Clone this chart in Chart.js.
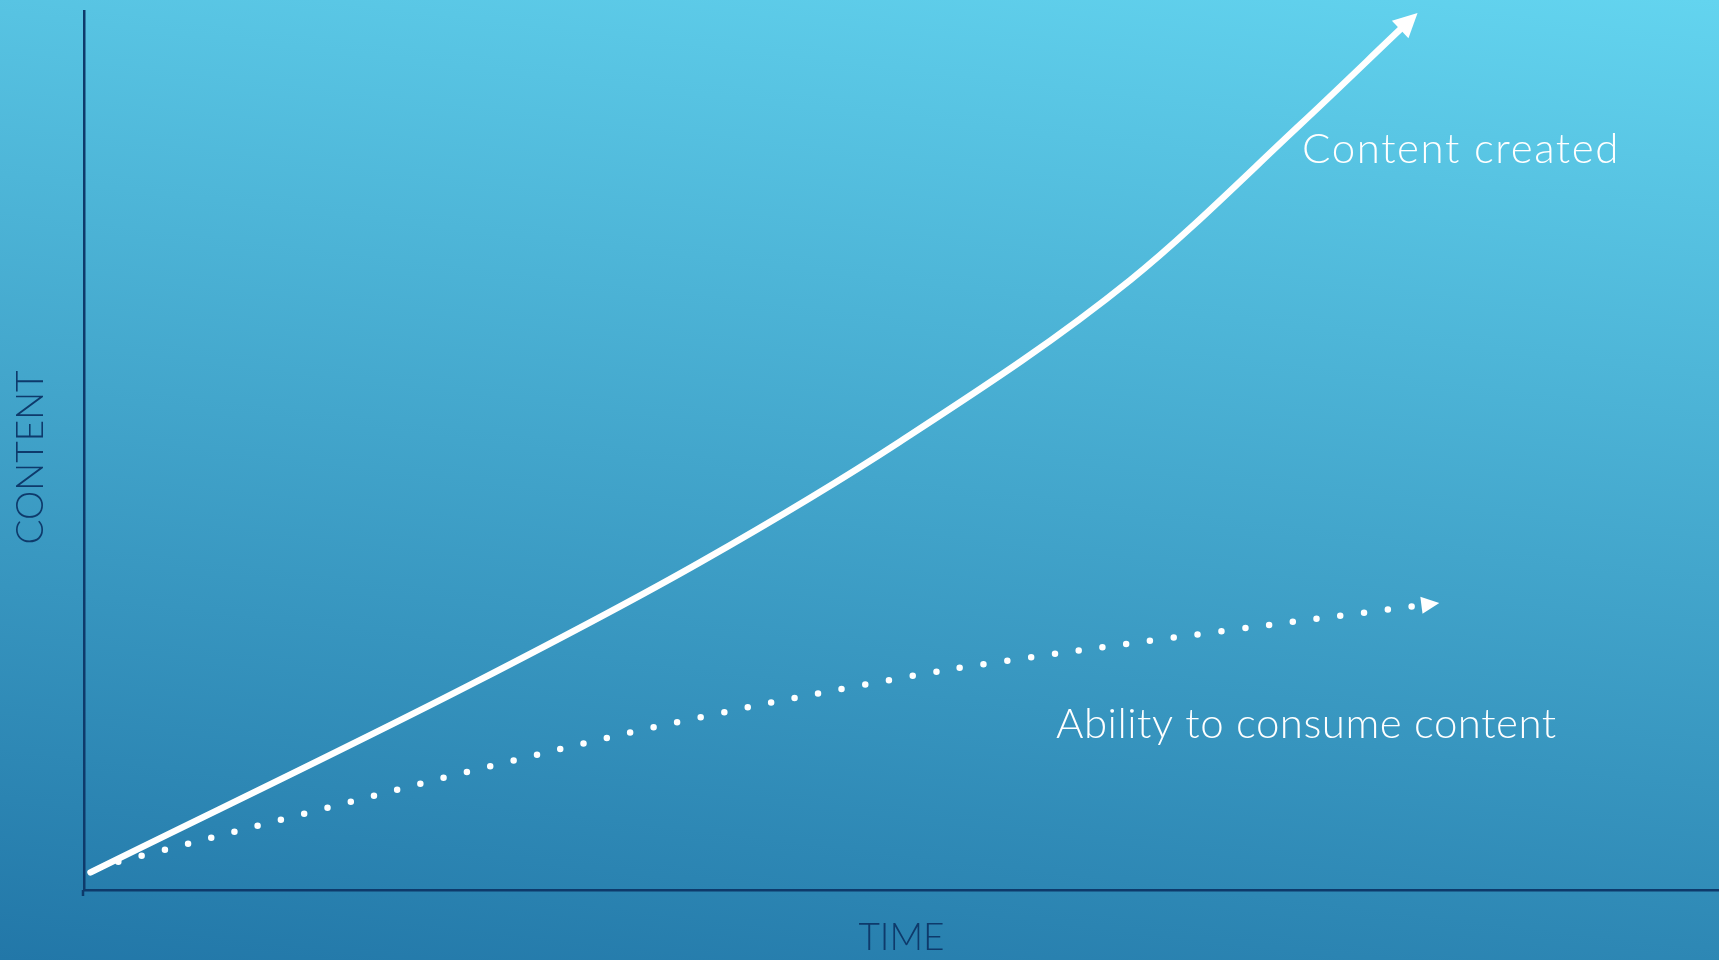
<!DOCTYPE html>
<html>
<head>
<meta charset="UTF-8">
<title>content.html</title>
<script src="https://cdn.jsdelivr.net/npm/chart.js"></script>
<style>
    body { margin: 0; overflow: hidden; }
    canvas { display: block; }
</style>
</head>
<body>
<canvas id="contentChart" width="1719" height="960"></canvas>

<script>
    // 作成されるコンテンツ量（実線）
    const createdTime = [0.4, 24.0, 37.7, 49.9, 64.0, 74.4, 80.5];
    const createdContent = [2.0, 23.7, 37.3, 51.0, 69.4, 87.1, 97.9];

    // 消費できる量（点線）
    const consumeTime = [2.1, 13.5, 24.9, 36.3, 49.3, 56.5, 68.2, 81.8];
    const consumeContent = [3.2, 8.7, 14.1, 19.1, 23.9, 26.1, 29.1, 32.4];

    const seriesNames = ['Content created', 'Ability to consume content'];
    const axisTitles = { x: 'TIME', y: 'CONTENT' };

    const navy = '#0e3a6b';
    Chart.defaults.font.family = 'Lato, "Open Sans", sans-serif';

    function toPoints(xs, ys) {
        return xs.map(function (x, i) { return { x: x, y: ys[i] }; });
    }

    // 背景グラデーション
    const backgroundPlugin = {
        id: 'bgGradient',
        beforeDraw: function (chart) {
            const ctx = chart.ctx;
            const g = ctx.createLinearGradient(0, chart.height, 134, -185);
            g.addColorStop(0, '#2277a8');
            g.addColorStop(1, '#63d4ef');
            ctx.save();
            ctx.fillStyle = g;
            ctx.fillRect(0, 0, chart.width, chart.height);
            ctx.restore();
        }
    };

    // 縦軸タイトルと軸の下端
    const axisPlugin = {
        id: 'axisExtras',
        afterDraw: function (chart) {
            const ctx = chart.ctx;
            const area = chart.chartArea;
            const left = chart.scales.y.left + chart.scales.y.width;
            ctx.save();
            ctx.strokeStyle = navy;
            ctx.lineWidth = 2.5;
            ctx.beginPath();
            ctx.moveTo(left - 1, area.bottom);
            ctx.lineTo(left - 1, area.bottom + 6);
            ctx.stroke();

            ctx.translate(31, (area.top + area.bottom) / 2 + 7);
            ctx.rotate(-Math.PI / 2);
            ctx.fillStyle = navy;
            ctx.font = '300 37px Lato, sans-serif';
            ctx.textAlign = 'center';
            ctx.textBaseline = 'middle';
            ctx.fillText(axisTitles.y, 0, 0);
            ctx.restore();
        }
    };

    // 線の終端に矢印、ラベル
    const arrowPlugin = {
        id: 'arrowLabels',
        afterDatasetsDraw: function (chart) {
            const ctx = chart.ctx;
            chart.data.datasets.forEach(function (ds, i) {
                const pts = chart.getDatasetMeta(i).data;
                const a = pts[pts.length - 2];
                const b = pts[pts.length - 1];
                const ang = Math.atan2(b.y - a.y, b.x - a.x);
                const len = ds.arrow.length, half = ds.arrow.half;
                ctx.save();
                ctx.translate(b.x, b.y);
                ctx.rotate(ang);
                ctx.fillStyle = '#ffffff';
                ctx.beginPath();
                ctx.moveTo(len, 0);
                ctx.lineTo(0, -half);
                ctx.lineTo(0, half);
                ctx.closePath();
                ctx.fill();
                ctx.restore();

                const lx = chart.scales.x.getPixelForValue(ds.labelAt.x);
                const ly = chart.scales.y.getPixelForValue(ds.labelAt.y);
                ctx.save();
                ctx.fillStyle = '#ffffff';
                ctx.font = '300 42px Lato, sans-serif';
                ctx.letterSpacing = ds.labelAt.spacing + 'px';
                ctx.textBaseline = 'alphabetic';
                ctx.textAlign = 'left';
                ctx.fillText(ds.label, lx, ly);
                ctx.restore();
            });
        }
    };

    const chartData = {
        datasets: [{
            label: seriesNames[0],
            data: toPoints(createdTime, createdContent),
            borderColor: '#ffffff',
            borderWidth: 6.5,
            borderCapStyle: 'round',
            cubicInterpolationMode: 'monotone',
            pointRadius: 0,
            arrow: { length: 24, half: 12 },
            labelAt: { x: 74.5, y: 82.7, spacing: 1.6 }
        }, {
            label: seriesNames[1],
            data: toPoints(consumeTime, consumeContent),
            borderColor: '#ffffff',
            borderWidth: 6.5,
            borderCapStyle: 'round',
            borderDash: [0, 24],
            tension: 0.4,
            pointRadius: 0,
            arrow: { length: 18, half: 8.5 },
            labelAt: { x: 59.45, y: 17.3, spacing: 0.5 }
        }]
    };

    const config = {
        type: 'line',
        data: chartData,
        options: {
            responsive: false,
            animation: false,
            devicePixelRatio: 1,
            events: [],
            layout: { padding: { top: 11, right: 0, left: 0, bottom: 0 } },
            plugins: {
                legend: { display: false },
                tooltip: { enabled: false }
            },
            scales: {
                x: {
                    type: 'linear',
                    min: 0,
                    max: 100,
                    grid: { display: false },
                    ticks: { display: false },
                    border: { color: navy, width: 2.5 },
                    title: {
                        display: true,
                        text: axisTitles.x,
                        color: navy,
                        font: { size: 37, weight: 300 },
                        padding: { top: 0, bottom: 0 }
                    },
                    afterFit: function (scale) { scale.height = 70; }
                },
                y: {
                    type: 'linear',
                    min: 0,
                    max: 100,
                    grid: { display: false },
                    ticks: { display: false },
                    border: { color: navy, width: 2.5 },
                    afterFit: function (scale) { scale.width = 84; }
                }
            }
        },
        plugins: [backgroundPlugin, arrowPlugin, axisPlugin]
    };

    new Chart(document.getElementById('contentChart'), config);
</script>
</body>
</html>
